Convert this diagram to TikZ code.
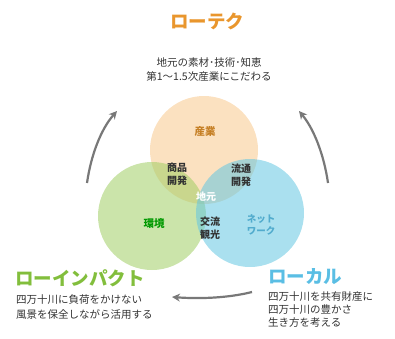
\documentclass[tikz,border=0pt]{standalone}
\usepackage{fontspec}
\newfontfamily\jp{Noto Sans CJK JP}
\usetikzlibrary{arrows.meta}
\definecolor{torange}{RGB}{233,150,45}
\definecolor{tgreen}{RGB}{130,190,60}
\definecolor{tblue}{RGB}{90,190,228}
\definecolor{corange}{RGB}{248,200,140}
\definecolor{cgreen}{RGB}{160,205,100}
\definecolor{cblue}{RGB}{100,198,225}
\definecolor{txt}{RGB}{50,50,50}
\definecolor{arrgray}{RGB}{120,120,120}
\begin{document}
\begin{tikzpicture}[x=1pt,y=-1pt,
  venn/.style={circle,minimum size=108pt,inner sep=0pt,fill opacity=0.55,draw=none},
  title/.style={font=\jp\bfseries\fontsize{18.5}{20}\selectfont,inner sep=0pt},
  body/.style={font=\jp\fontsize{10.5}{13.5}\selectfont,text=txt,inner sep=0pt},
  lab/.style={font=\jp\bfseries\fontsize{10}{12.5}\selectfont,text=txt,align=center,inner sep=0pt},
  arr/.style={draw=arrgray,line width=2.2pt,-{Stealth[length=8pt,width=8pt]}}]
\useasboundingbox (0,0) rectangle (395,338);
% circles
\node[venn,fill=corange] (ctop) at (204,150) {};
\node[venn,fill=cgreen] (cleft) at (152,216) {};
\node[venn,fill=cblue] (cright) at (250,213) {};
% circle labels
\node[font=\jp\bfseries\fontsize{10.5}{12}\selectfont,text=torange!85!black,inner sep=0pt] (sangyo) at (205,131) {産業};
\node[font=\jp\bfseries\fontsize{10.5}{12}\selectfont,text=green!60!black,inner sep=0pt] (kankyo) at (154,224) {環境};
\node[font=\jp\bfseries\fontsize{9.5}{11.5}\selectfont,text=tblue!90!black,align=center,inner sep=0pt] (net) at (261,225) {ネット\\ワーク};
\node[lab] (shohin) at (177,174) {商品\\開発};
\node[lab] (ryutsu) at (241,175) {流通\\開発};
\node[font=\jp\bfseries\fontsize{10}{12}\selectfont,text=white,inner sep=0pt] (jimoto) at (206,197) {地元};
\node[lab] (koryu) at (210,228) {交流\\観光};
% titles
\node[title,text=torange] (lowtech) at (207,21) {ローテク};
\node[body,align=center] (lowtechtxt) at (209,69.5) {地元の素材･技術･知恵\\第1～1.5次産業にこだわる};
\node[title,text=tgreen,anchor=west] (impact) at (15,278) {ローインパクト};
\node[body,align=left,anchor=north west,font=\jp\fontsize{10.5}{15.5}\selectfont] (impacttxt) at (16,294) {四万十川に負荷をかけない\\風景を保全しながら活用する};
\node[title,text=tblue,anchor=west] (local) at (268,277) {ローカル};
\node[body,align=left,anchor=north west,font=\jp\fontsize{10.5}{13.2}\selectfont] (localtxt) at (268,291.5) {四万十川を共有財産に\\四万十川の豊かさ\\生き方を考える};
% arrows
\coordinate (la) at (87,183);
\coordinate (lb) at (117,111);
\coordinate (ra) at (328,183);
\coordinate (rb) at (299,111);
\coordinate (ba) at (252,292);
\coordinate (bb) at (172,297);
\draw[arr] (la) .. controls (91,155) and (101,129) .. (lb);
\draw[arr] (ra) .. controls (324,155) and (314,129) .. (rb);
\draw[arr] (ba) .. controls (228,298) and (200,299) .. (bb);
\end{tikzpicture}
\end{document}
